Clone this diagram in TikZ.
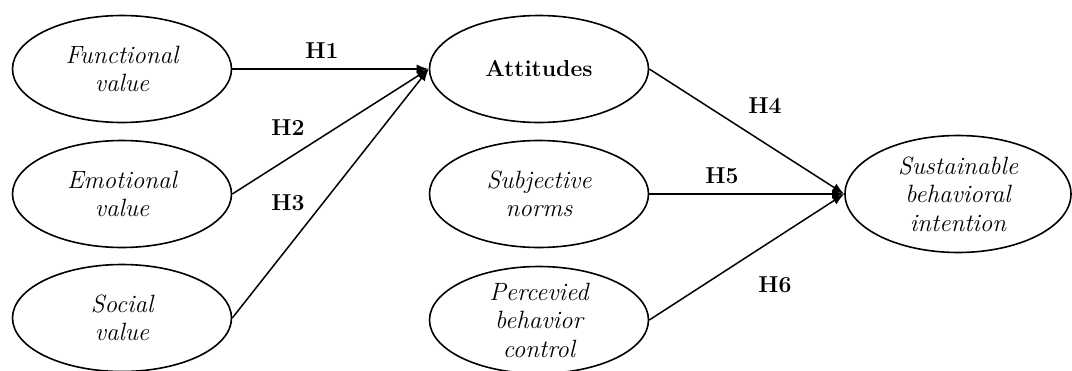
\documentclass[tikz,border=0pt]{standalone}
\usetikzlibrary{arrows.meta,shapes.geometric}
\tikzset{
  var/.style={draw, ellipse, line width=1.6pt, minimum width=219pt, minimum height=107pt, inner sep=0pt, align=center, font=\fontsize{25}{28.5}\selectfont\itshape},
  hyp/.style={font=\fontsize{23}{28}\selectfont\bfseries, inner sep=0pt},
  arr/.style={line width=1.5pt, -{Latex[length=12pt,width=9pt]}}
}
\begin{document}
\begin{tikzpicture}[x=1pt,y=-1pt]
\useasboundingbox (0,0) rectangle (1072,370);
\node[var] (fv) at (122,69) {Functional\\value};
\node[var] (ev) at (122,194) {Emotional\\value};
\node[var] (sv) at (122,318) {Social\\value};
\node[var, font=\fontsize{23}{28}\selectfont\bfseries] (att) at (539,69) {Attitudes};
\node[var] (sn) at (539,194) {Subjective\\norms};
\node[var] (pbc) at (539,320) {Percevied\\behavior\\control};
\node[var, minimum width=226pt, minimum height=117pt] (sbi) at (958,194) {Sustainable\\behavioral\\intention};
\draw[arr] (fv.east) -- (att.west);
\draw[arr] (ev.east) -- (att.west);
\draw[arr] (sv.east) -- (att.west);
\draw[arr] (att.east) -- (sbi.west);
\draw[arr] (sn.east) -- (sbi.west);
\draw[arr] (pbc.east) -- (sbi.west);
\node[hyp] (h1) at (322,51) {H1};
\node[hyp] (h2) at (288,128) {H2};
\node[hyp] (h3) at (288,203) {H3};
\node[hyp] (h4) at (765,106) {H4};
\node[hyp] (h5) at (722,176) {H5};
\node[hyp] (h6) at (775,285) {H6};
\end{tikzpicture}
\end{document}
